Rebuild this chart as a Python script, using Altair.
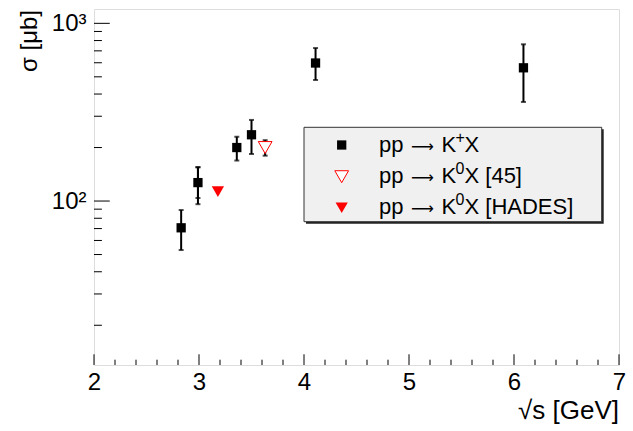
import altair as alt
import pandas as pd

# pp -> K+ X cross sections
kp_sqrts = [2.83, 2.99, 3.36, 3.50, 4.11, 6.09]
kp_sigma = [70.7, 127.0, 200.0, 236.0, 598.0, 562.0]
kp_lo = [53.0, 96.0, 169.0, 184.0, 480.0, 361.0]
kp_hi = [89.0, 155.0, 230.0, 286.0, 726.0, 762.0]
# inner error bar on the 2.99 GeV point
kp_inner_sqrts = [2.99]
kp_inner_lo = [104.0]
kp_inner_hi = [155.0]

# pp -> K0 X [45]
k0_sqrts = [3.63]
k0_sigma = [200.0]
k0_lo = [180.0]
k0_hi = [220.0]

# pp -> K0 X [HADES]
hades_sqrts = [3.18]
hades_sigma = [113.0]

x_major = [2, 3, 4, 5, 6, 7]
x_minor = [round(2 + 0.2 * i, 1) for i in range(26) if i % 5 != 0]
y_major = [100, 1000]
y_minor = [20, 30, 40, 50, 60, 70, 80, 90, 200, 300, 400, 500, 600, 700, 800, 900]

# legend entries: reaction "pp -> K^sup X suffix"
legend_sup = ["+", "0", "0"]
legend_suffix = ["X", "X [45]", "X [HADES]"]

W, H = 525, 356
FONT = "Liberation Sans"

xs = alt.Scale(domain=[2, 7], nice=False, zero=False)
ys = alt.Scale(type="log", domain=[11.95, 1204], nice=False)

kp = pd.DataFrame({"x": kp_sqrts, "y": kp_sigma, "lo": kp_lo, "hi": kp_hi})
kpi = pd.DataFrame({"x": kp_inner_sqrts, "lo": kp_inner_lo, "hi": kp_inner_hi})
k0 = pd.DataFrame({"x": k0_sqrts, "y": k0_sigma, "lo": k0_lo, "hi": k0_hi})
hd = pd.DataFrame({"x": hades_sqrts, "y": hades_sigma})


def X(f="x"):
    return alt.X(f"{f}:Q", scale=xs)


def Y(f="y"):
    return alt.Y(f"{f}:Q", scale=ys)


axis_x = alt.Axis(values=x_major, format="d", ticks=False, domain=False, grid=False,
                  labelFont=FONT, labelFontSize=24, labelColor="black", labelPadding=5,
                  labelFlush=False, title=None)
axis_y = alt.Axis(values=y_major, ticks=False, domain=False, grid=False,
                  labelExpr="datum.value == 1000 ? '10³' : (datum.value == 100 ? '10²' : '')",
                  labelFont=FONT, labelFontSize=24, labelColor="black", labelPadding=8,
                  title=None)

base_axes = alt.Chart(kp).mark_point(opacity=0).encode(
    x=alt.X("x:Q", scale=xs, axis=axis_x), y=alt.Y("y:Q", scale=ys, axis=axis_y))

# ticks drawn inside the frame
xmaj = alt.Chart(pd.DataFrame({"x": x_major})).mark_rule(color="black", strokeWidth=1).encode(
    x=X(), y=alt.value(H), y2=alt.value(H - 10.7))
xmin = alt.Chart(pd.DataFrame({"x": x_minor})).mark_rule(color="black", strokeWidth=1).encode(
    x=X(), y=alt.value(H), y2=alt.value(H - 5.3))
ymaj = alt.Chart(pd.DataFrame({"y": y_major})).mark_rule(color="black", strokeWidth=1).encode(
    y=Y(), x=alt.value(0), x2=alt.value(15.75))
ymin = alt.Chart(pd.DataFrame({"y": y_minor})).mark_rule(color="black", strokeWidth=1).encode(
    y=Y(), x=alt.value(0), x2=alt.value(7.9))


def errbars(df, color):
    bar = alt.Chart(df).mark_rule(color=color, strokeWidth=2).encode(x=X(), y=Y("lo"), y2="hi:Q")
    cap_lo = alt.Chart(df).mark_tick(color=color, orient="horizontal", size=5, thickness=2).encode(
        x=X(), y=Y("lo"))
    cap_hi = alt.Chart(df).mark_tick(color=color, orient="horizontal", size=5, thickness=2).encode(
        x=X(), y=Y("hi"))
    return bar + cap_lo + cap_hi


kp_err = errbars(kp, "black") + errbars(kpi, "black")
k0_err = errbars(k0, "black")

kp_pts = alt.Chart(kp).mark_point(shape="square", filled=True, size=86, color="black",
                                  opacity=1).encode(x=X(), y=Y())
k0_pts = alt.Chart(k0).mark_point(shape="triangle-down", filled=True, size=190, fill="white",
                                  stroke="red", strokeWidth=1, opacity=1).encode(x=X(), y=Y())
hd_pts = alt.Chart(hd).mark_point(shape="triangle-down", filled=True, size=150, color="red",
                                  opacity=1).encode(x=X(), y=Y())

# legend box with a drop shadow
one = pd.DataFrame({"k": [0]})
lx0, lx1, ly0, ly1 = 210, 507.7, 118.3, 212.7
shadow = alt.Chart(one).mark_rect(color="#222222").encode(
    x=alt.value(lx0 + 2), x2=alt.value(lx1 + 2), y=alt.value(ly0 + 2), y2=alt.value(ly1 + 2))
box = alt.Chart(one).mark_rect(fill="#f0f0f0", stroke="#333333", strokeWidth=1).encode(
    x=alt.value(lx0), x2=alt.value(lx1), y=alt.value(ly0), y2=alt.value(ly1))
sym_x = 247.7
rows = [136.0, 167.7, 198.7]
baselines = [142.7, 174.0, 205.0]
leg_sq = alt.Chart(one).mark_point(shape="square", filled=True, size=86, color="black",
                                   opacity=1).encode(x=alt.value(sym_x), y=alt.value(rows[0]))
leg_open = alt.Chart(one).mark_point(shape="triangle-down", filled=True, size=190, fill="white",
                                     stroke="red", strokeWidth=1, opacity=1).encode(
    x=alt.value(sym_x), y=alt.value(rows[1]))
leg_fill = alt.Chart(one).mark_point(shape="triangle-down", filled=True, size=150, color="red",
                                     opacity=1).encode(x=alt.value(sym_x), y=alt.value(rows[2]))


def txt(text, x, y, size=22, font=FONT, align="left"):
    return alt.Chart(one).mark_text(text=text, font=font, fontSize=size, align=align,
                                    baseline="alphabetic", color="black").encode(
        x=alt.value(x), y=alt.value(y))


leg_texts = []
for sup, suf, b in zip(legend_sup, legend_suffix, baselines):
    leg_texts += [
        txt("pp", 285, b),
        txt("⟶", 328.5, b, size=16, font="DejaVu Sans", align="center"),
        txt("K", 347.5, b),
        txt(sup, 361.5, b - 9, size=16),
        txt(suf, 370.5, b),
    ]

# axis titles
xtitle = txt("√s [GeV]", W, 410, size=26, align="right")
ytitle = alt.Chart(one).mark_text(text="σ [μb]", font=FONT, fontSize=24, align="right",
                                  baseline="middle", angle=270, color="black").encode(
    x=alt.value(-64), y=alt.value(1))

chart = alt.layer(
    base_axes, xmaj, xmin, ymaj, ymin,
    kp_err, k0_err, kp_pts, k0_pts, hd_pts,
    shadow, box, leg_sq, leg_open, leg_fill, *leg_texts,
    xtitle, ytitle,
).properties(
    width=W, height=H,
    autosize=alt.AutoSizeParams(type="none"),
    padding={"left": 94, "top": 9, "right": 14, "bottom": 66},
).configure_view(stroke="black", strokeWidth=1).configure(background="white")

chart.save("out.html", embed_options={"renderer": "svg", "actions": False})
